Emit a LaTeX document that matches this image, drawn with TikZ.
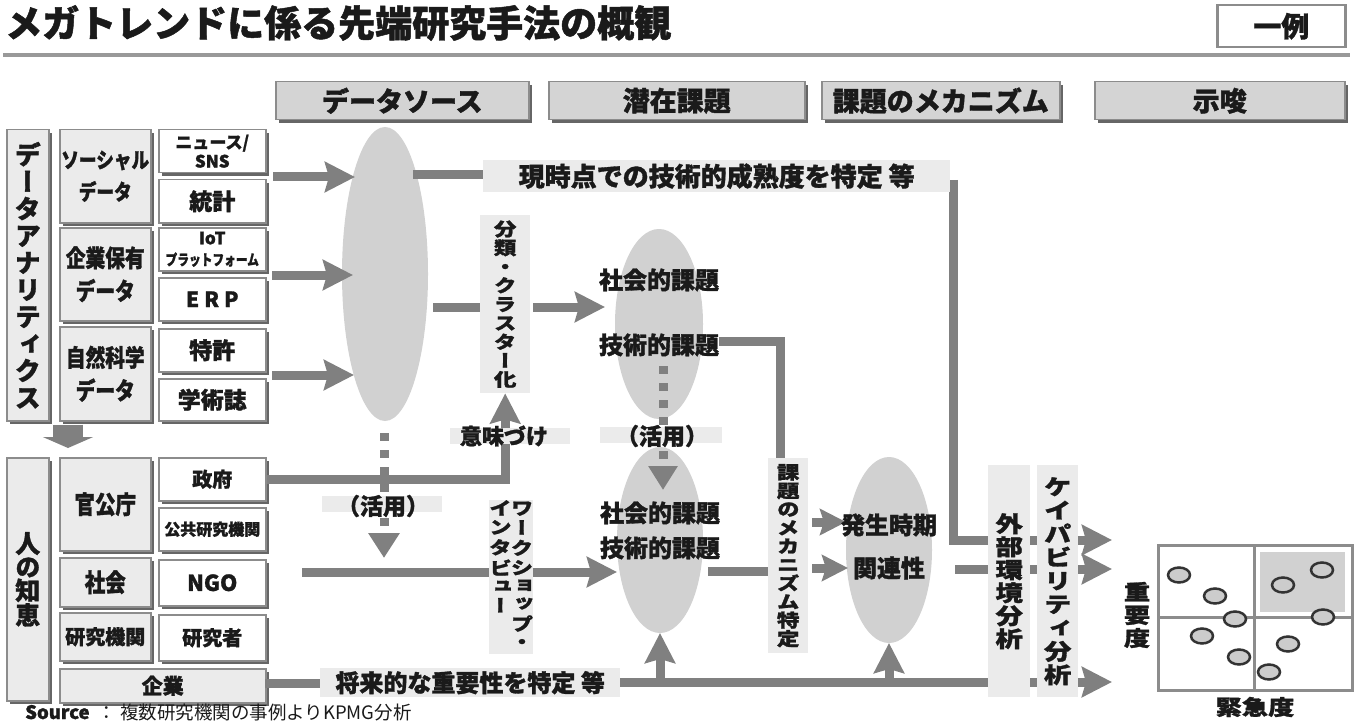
\documentclass[tikz,border=0pt]{standalone}
\usepackage{graphicx}
\usepackage{fontspec}
\setmainfont{Noto Sans CJK JP}[BoldFeatures={FakeBold=1.3}]
\newfontfamily\cndfont{Noto Sans CJK JP}[FakeStretch=0.82, BoldFeatures={FakeBold=1.3}]
\newfontfamily\widefont{Noto Sans CJK JP}[FakeStretch=1.25, RawFeature=+vert, BoldFeatures={FakeBold=1.3}]
\newfontfamily\vfont{Noto Sans CJK JP}[RawFeature=+vert, BoldFeatures={FakeBold=1.3}]
\usetikzlibrary{arrows.meta,shadows,shapes.geometric}
\definecolor{arrg}{HTML}{808080}
\definecolor{hdr}{HTML}{D4D4D4}
\definecolor{lbg}{HTML}{EBEBEB}
\definecolor{ellc}{HTML}{D1D1D1}
\definecolor{bord}{HTML}{8C8C8C}
\definecolor{txt}{HTML}{1A1A1A}
\tikzset{
 fs/.style 2 args={font=\bfseries\fontsize{#1}{#2}\selectfont, text=txt},
 fsc/.style 2 args={font=\cndfont\bfseries\fontsize{#1}{#2}\selectfont, text=txt},
 fsw/.style 2 args={font=\widefont\bfseries\fontsize{#1}{#2}\selectfont, text=txt},
 fsv/.style 2 args={font=\vfont\bfseries\fontsize{#1}{#2}\selectfont, text=txt},
 sbox/.style={draw=bord, line width=1.5pt, fill=#1, inner sep=0pt, anchor=north west, align=center,
   drop shadow={shadow xshift=3pt, shadow yshift=-3pt, fill=black, opacity=0.6}},
 pbox/.style={fill=lbg, inner sep=0pt, anchor=north west, align=center},
 ell/.style={ellipse, fill=ellc, inner sep=0pt},
 conn/.style={draw=arrg, line width=9pt},
 arr/.style={conn, -{Stealth[length=30pt,width=30pt,inset=4pt]}},
 sarr/.style={conn, -{Stealth[length=26pt,width=26pt,inset=4pt]}},
 darr/.style={conn, dash pattern=on 8pt off 9pt, -{Triangle[length=25pt,width=30pt]}},
 lab/.style={fill=lbg, inner sep=0pt, anchor=north west},
 mdot/.style={ellipse, draw=black!80, line width=2.5pt, fill=black!20, minimum width=22pt, minimum height=15pt, inner sep=0pt},
}
\begin{document}
\begin{tikzpicture}[x=1pt,y=-1pt]
\useasboundingbox (0,0) rectangle (1359,722);

% title
\node[anchor=west, inner sep=0pt, fs={37}{37}] (title) at (5,23) {メガトレンドに係る先端研究手法の概観};
\draw[line width=4pt, draw=black!40] (3,55) -- (1350,55);
\node[draw=bord, line width=2.5pt, anchor=north west, minimum width=128pt, minimum height=42pt, fs={28}{28}] (ex) at (1216,4) {一例};

% headers
\node[sbox=hdr, minimum width=253pt, minimum height=38pt, fs={27}{27}] (h1) at (275,81) {データソース};
\node[sbox=hdr, minimum width=256pt, minimum height=38pt, fs={27}{27}] (h2) at (548,81) {潜在課題};
\node[sbox=hdr, minimum width=238pt, minimum height=38pt, fs={27}{27}] (h3) at (821,81) {課題のメカニズム};
\node[sbox=hdr, minimum width=250pt, minimum height=38pt, fs={27}{27}] (h4) at (1094,81) {示唆};

% ellipses
\node[ell, minimum width=86pt, minimum height=294pt] (e1) at (385,274) {};
\node[ell, minimum width=88pt, minimum height=190pt] (e2) at (659,324) {};
\node[ell, minimum width=86pt, minimum height=186pt] (e3) at (660,540) {};
\node[ell, minimum width=86pt, minimum height=186pt] (e4) at (889,550) {};

% left: data analytics
\node[sbox=lbg, minimum width=42pt, minimum height=291pt, fsv={26}{27}] (da) at (6,129) {デ\\ー\\タ\\ア\\ナ\\リ\\テ\\ィ\\ク\\ス};
\node[sbox=lbg, minimum width=91pt, minimum height=93pt, fsc={21.5}{32}] (sd) at (59,129) {ソーシャル\\データ};
\node[sbox=lbg, minimum width=91pt, minimum height=93pt, fsc={24}{33}] (kd) at (59,227) {企業保有\\データ};
\node[sbox=lbg, minimum width=91pt, minimum height=94pt, fsc={24}{33}] (sk) at (59,326) {自然科学\\データ};
\node[sbox=white, minimum width=107pt, minimum height=43pt, fs={17}{19}] (news) at (158,129) {ニュース/\\SNS};
\node[sbox=white, minimum width=107pt, minimum height=43pt, fs={23}{23}] (tokei) at (158,179) {統計};
\node[sbox=white, minimum width=107pt, minimum height=43pt, fs={17}{21}] (iot) at (158,227) {IoT\\\scalebox{0.78}[1]{\fontsize{15}{15}\selectfont プラットフォーム}};
\node[sbox=white, minimum width=107pt, minimum height=43pt, fs={21}{21}] (erp) at (158,277) {E\hspace{5pt}R\hspace{5pt}P};
\node[sbox=white, minimum width=107pt, minimum height=43pt, fs={23}{23}] (tokkyo) at (158,328) {特許};
\node[sbox=white, minimum width=107pt, minimum height=42pt, fs={23}{23}] (gaku) at (158,378) {学術誌};

% human knowledge
\node[sbox=lbg, minimum width=42pt, minimum height=243pt, fsv={25}{23.5}] (hito) at (6,457) {人\\の\\知\\恵};
\node[sbox=lbg, minimum width=91pt, minimum height=93pt, fsc={25}{25}] (kan) at (59,457) {官公庁};
\node[sbox=lbg, minimum width=91pt, minimum height=49pt, fsc={25}{25}] (sha) at (59,557) {社会};
\node[sbox=lbg, minimum width=91pt, minimum height=48pt, fs={20}{20}] (ken) at (59,612) {研究機関};
\node[sbox=lbg, minimum width=206pt, minimum height=34pt, fs={21}{21}] (kig) at (59,668) {企業};
\node[sbox=white, minimum width=107pt, minimum height=43pt, fs={20}{20}] (seifu) at (158,457) {政府};
\node[sbox=white, minimum width=107pt, minimum height=43pt, fs={16}{16}] (kok) at (158,507) {公共研究機関};
\node[sbox=white, minimum width=107pt, minimum height=46pt, fs={22}{22}] (ngo) at (158,559) {NGO};
\node[sbox=white, minimum width=107pt, minimum height=46pt, fs={20}{20}] (kes) at (158,614) {研究者};
\draw[draw=arrg, line width=30pt, -{Triangle[length=11pt,width=50pt]}] (da.south -| 68,0) ++(0,3) -- (68,448);

\node[anchor=west, inner sep=0pt, font=\fontsize{18.5}{18.5}\selectfont, text=txt] (src) at (25,712) {\textbf{Source}\hspace{8pt}：\hspace{4pt}複数研究機関の事例よりKPMG分析};

% arrows into data source ellipse
\draw[arr] (273,177) -- (355,177);
\draw[arr] (272,275) -- (353,275);
\draw[arr] (272,375) -- (354,375);

% current maturity
\draw[conn] (413,175) -- (485,175);
\draw[arr] (953,180) |- (1112,540);
\node[lab, minimum width=467pt, minimum height=32pt, fs={26}{26}] (genji) at (483,160) {現時点での技術的成熟度を特定 等};

% clustering
\draw[conn] (433,307) -- (480,307);
\draw[arr] (533,307) -- (605,307);
\node[pbox, minimum width=50pt, minimum height=178pt, fsw={18}{18.8}] (bunrui) at (480,215) {分\\類\\・\\ク\\ラ\\ス\\タ\\ー\\化};

% dashed from e1
\draw[darr] (384,433) -- (384,558);
\fill[lbg] (322,496) rectangle (442,512);
\node[fs={23}{23}] (k1) at (383,506) {（活用）};

% government -> clustering
\draw[arr] (seifu.east) -| (bunrui.south);
\fill[lbg] (450,428) rectangle (570,444);
\node[fs={22}{22}] (imi) at (504,436) {意味づけ};

% workshop
\draw[arr] (302,572) -- (617,572);
\node[pbox, minimum width=43pt, minimum height=150pt, fsw={18}{17.8}] (ws) at (489,500) {\begin{tabular}[t]{@{}c@{}}イ\\ン\\タ\\ビ\\ュ\\ー\end{tabular}\hspace{-1pt}\begin{tabular}[t]{@{}c@{}}ワ\\ー\\ク\\シ\\ョ\\ッ\\プ\\・\end{tabular}};

% ellipse texts
\node[fs={24}{24}] (s1) at (659,280) {社会的課題};
\node[fs={24}{24}] (t1) at (659,345) {技術的課題};
\draw[darr, -{Triangle[length=24pt,width=28pt]}] (663,366) -- (663,490);
\fill[lbg] (600,427) rectangle (722,443);
\node[fs={23}{23}] (k2) at (662,436) {（活用）};
\node[fs={24}{24}] (s2) at (660,513) {社会的課題};
\node[fs={24}{24}] (t2) at (660,548) {技術的課題};

% mechanism
\draw[conn] (719,341) -| (780,460);
\draw[conn] (708,571) -- (770,571);
\node[pbox, minimum width=40pt, minimum height=195pt, fsw={18}{18.5}] (mech) at (768,458) {課\\題\\の\\メ\\カ\\ニ\\ズ\\ム\\特\\定};
\draw[sarr] (812,522) -- (846,522);
\draw[sarr] (812,568) -- (848,568);
\node[fs={24}{24}] (hs) at (889,525) {発生時期};
\node[fs={24}{24}] (kr) at (889,568) {関連性};

% to implications
\draw[arr] (955,569) -- (1112,569);
\draw[conn] (265,683) -- (322,683);
\draw[arr] (618,682) -- (1112,682);
\draw[arr] (660,682) -- (660,633);
\draw[arr] (889,682) -- (889,643);
\node[lab, minimum width=300pt, minimum height=29pt, fs={24}{24}] (shorai) at (320,668) {将来的な重要性を特定 等};

\node[pbox, minimum width=42pt, minimum height=232pt, fsw={22}{23}] (gaibu) at (988,465) {外\\部\\環\\境\\分\\析};
\node[pbox, minimum width=41pt, minimum height=232pt, fsw={22}{23.5}] (cap) at (1037,465) {ケ\\イ\\パ\\ビ\\リ\\テ\\ィ\\分\\析};

% matrix
\fill[ellc] (1260,552) rectangle (1345,612);
\draw[draw=black!45, line width=3pt] (1158,545) rectangle (1352,690);
\draw[draw=black!45, line width=3pt] (1254,545) -- (1254,690);
\draw[draw=black!45, line width=3pt] (1158,617) -- (1352,617);
\node[mdot] (d1) at (1179,575) {};
\node[mdot] (d2) at (1215,596) {};
\node[mdot] (d3) at (1235,619) {};
\node[mdot] (d4) at (1202,636) {};
\node[mdot] (d5) at (1239,657) {};
\node[mdot] (d6) at (1283,585) {};
\node[mdot] (d7) at (1322,570) {};
\node[mdot] (d8) at (1323,617) {};
\node[mdot] (d9) at (1288,644) {};
\node[mdot] (d10) at (1269,672) {};
\node[fsw={21}{23}, align=center] (jyu) at (1137,615) {重\\要\\度};
\node[fsw={21}{21}] (kin) at (1255,707) {緊急度};
\end{tikzpicture}
\end{document}
